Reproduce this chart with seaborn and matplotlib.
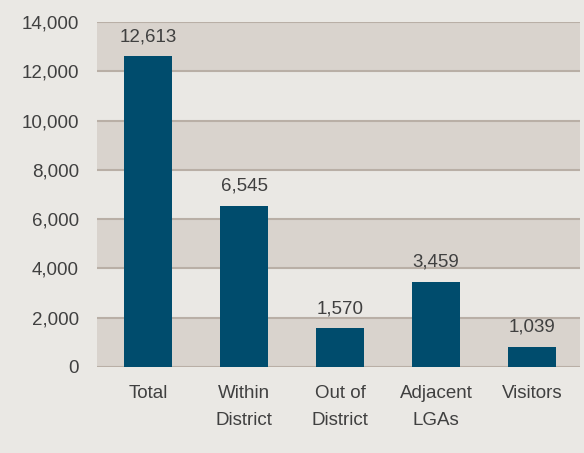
import pandas as pd
import matplotlib.pyplot as plt
import seaborn as sns

# Datos del grafico
categorias = ["Total", "Within\nDistrict", "Out of\nDistrict", "Adjacent\nLGAs", "Visitors"]
valores = [12613, 6545, 1570, 3459, 810]
etiquetas = ["12,613", "6,545", "1,570", "3,459", "1,039"]
ticks_y = [0, 2000, 4000, 6000, 8000, 10000, 12000, 14000]

fondo = "#eae8e4"
banda = "#d9d3cd"
linea = "#b9afa6"
barra = "#004c6d"
texto = "#404040"

sns.set_theme(style="white")
plt.rcParams['font.family'] = ['Liberation Sans', 'DejaVu Sans']

df = pd.DataFrame({"categoria": categorias, "valor": valores})

fig = plt.figure(figsize=(5.84, 4.53), dpi=100, facecolor=fondo)
ax = fig.add_axes([0.166, 0.19, 0.827, 0.761])
ax.set_facecolor(fondo)

# Bandas alternas y lineas de la cuadricula
for i in range(0, len(ticks_y) - 1, 2):
    ax.axhspan(ticks_y[i], ticks_y[i + 1], color=banda, zorder=0, lw=0)
for t in ticks_y:
    ax.axhline(t, color=linea, lw=1.5, zorder=1)

sns.barplot(data=df, x="categoria", y="valor", color=barra, width=0.5,
            saturation=1, linewidth=0, ax=ax, zorder=2)

for i, (v, et) in enumerate(zip(valores, etiquetas)):
    ax.annotate(et, (i, v), xytext=(0, 8), textcoords="offset points",
                ha="center", va="bottom", fontsize=13.5, color=texto)

ax.set_ylim(0, 14000)
ax.set_xlim(-0.537, 4.5)
ax.set_yticks(ticks_y)
ax.set_yticklabels([f"{t:,}" for t in ticks_y])
ax.set_xlabel("")
ax.set_ylabel("")
ax.tick_params(axis="y", length=0, pad=13, labelsize=13.5, labelcolor=texto)
ax.tick_params(axis="x", length=0, pad=13, labelsize=13.5, labelcolor=texto)
for lbl in ax.get_xticklabels():
    lbl.set_linespacing(1.8)
for s in ax.spines.values():
    s.set_visible(False)

plt.savefig("out.png", facecolor=fondo)
